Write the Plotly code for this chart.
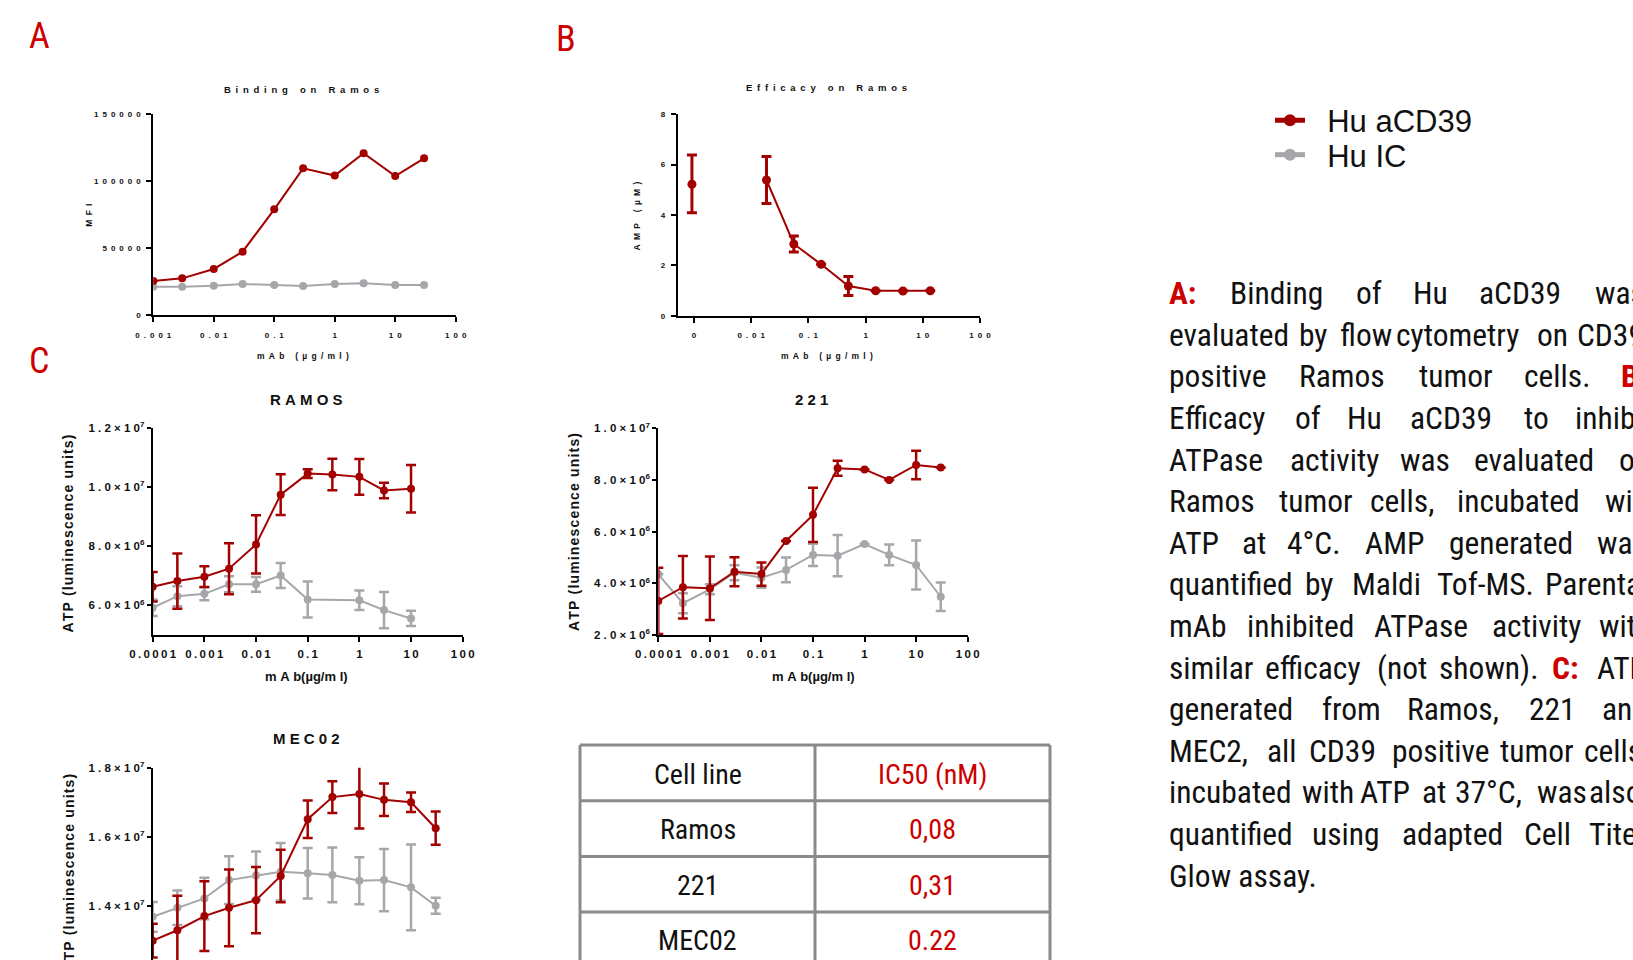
import plotly.graph_objects as go

W, H = 1633, 960
RED = "#a30000"
GRAY = "#a7a7ab"
LABEL_RED = "#cc0000"
INK = "#111111"
FONT = "Liberation Sans, Arial, sans-serif"
NARROW = "Roboto Condensed, DejaVu Sans Condensed, Liberation Sans Narrow, Arial Narrow, Liberation Sans, sans-serif"


def fx(p):
    return p / W


def fy(p):
    return 1 - p / H


def spaced(s, sep):
    return sep.join(ch if ch != " " else "\u00a0" for ch in s)


# ---------------- data ----------------
# A: Binding on Ramos (MFI)
bind_conc = [0.001, 0.003, 0.01, 0.03, 0.1, 0.3, 1, 3, 10, 30]
bind_acd39 = [25400, 27400, 34400, 47300, 79000, 109600, 104200, 120900, 103900, 117100]
bind_ic = [21200, 21200, 21900, 23200, 22400, 21700, 23200, 23700, 22400, 22400]

# B: Efficacy on Ramos (AMP, uM)
eff_ctrl_conc = [0.00092]
eff_ctrl_amp = [5.22]
eff_ctrl_err_plus = [1.16]
eff_ctrl_err_minus = [1.13]
eff_conc = [0.0185, 0.0556, 0.167, 0.5, 1.5, 4.5, 13.5]
eff_amp = [5.39, 2.85, 2.04, 1.18, 0.99, 0.98, 0.99]
eff_err = [0.93, 0.32, 0.0, 0.38, 0.0, 0.0, 0.0]

# C: ATP (luminescence units)
ramos_conc = [1e-4, 3e-4, 1e-3, 3e-3, 1e-2, 3e-2, 0.1, 0.3, 1, 3, 10]
ramos_acd39 = [6.63e6, 6.82e6, 6.97e6, 7.24e6, 8.06e6, 9.74e6, 10.45e6, 10.42e6, 10.34e6, 9.88e6, 9.94e6]
ramos_acd39_err = [0.50e6, 0.93e6, 0.35e6, 0.86e6, 0.98e6, 0.69e6, 0.15e6, 0.53e6, 0.60e6, 0.26e6, 0.80e6]
ramos_ic_conc = [1e-4, 3e-4, 1e-3, 3e-3, 1e-2, 3e-2, 0.1, 1, 3, 10]
ramos_ic = [5.92e6, 6.31e6, 6.39e6, 6.71e6, 6.71e6, 7.01e6, 6.20e6, 6.17e6, 5.84e6, 5.56e6]
ramos_ic_err = [0.28e6, 0.34e6, 0.22e6, 0.27e6, 0.25e6, 0.42e6, 0.61e6, 0.33e6, 0.61e6, 0.26e6]

c221_conc = [1e-4, 3e-4, 1e-3, 3e-3, 1e-2, 3e-2, 0.1, 0.3, 1, 3, 10, 30]
c221_acd39 = [3.32e6, 3.85e6, 3.81e6, 4.45e6, 4.36e6, 5.64e6, 6.65e6, 8.45e6, 8.41e6, 8.00e6, 8.58e6, 8.48e6]
c221_acd39_err = [1.28e6, 1.21e6, 1.23e6, 0.56e6, 0.45e6, 0.0, 1.05e6, 0.29e6, 0.0, 0.0, 0.55e6, 0.0]
c221_ic = [4.35e6, 3.23e6, 3.77e6, 4.41e6, 4.22e6, 4.52e6, 5.10e6, 5.07e6, 5.52e6, 5.10e6, 4.71e6, 3.48e6]
c221_ic_err = [0.0, 0.39e6, 0.19e6, 0.29e6, 0.39e6, 0.48e6, 0.43e6, 0.80e6, 0.0, 0.40e6, 0.95e6, 0.55e6]

mec_conc = [1e-4, 3e-4, 1e-3, 3e-3, 1e-2, 3e-2, 0.1, 0.3, 1, 3, 10, 30]
mec_acd39 = [13.00e6, 13.30e6, 13.71e6, 13.95e6, 14.17e6, 14.87e6, 16.51e6, 17.15e6, 17.24e6, 17.07e6, 17.00e6, 16.25e6]
mec_acd39_err = [0.49e6, 1.00e6, 1.01e6, 1.11e6, 0.96e6, 0.76e6, 0.54e6, 0.46e6, 1.00e6, 0.47e6, 0.28e6, 0.48e6]
mec_ic = [13.69e6, 13.95e6, 14.22e6, 14.75e6, 14.88e6, 14.99e6, 14.95e6, 14.90e6, 14.73e6, 14.75e6, 14.54e6, 14.01e6]
mec_ic_err = [0.43e6, 0.50e6, 0.60e6, 0.69e6, 0.70e6, 0.83e6, 0.73e6, 0.79e6, 0.68e6, 0.90e6, 1.24e6, 0.23e6]

# tick labels
a_xticks = [0.001, 0.01, 0.1, 1, 10, 100]
a_xtext = ["0.001", "0.01", "0.1", "1", "10", "100"]
a_yticks = [0, 50000, 100000, 150000]
a_ytext = ["0", "50000", "100000", "150000"]
b_xticks = [0.001, 0.01, 0.1, 1, 10, 100]
b_xtext = ["0", "0.01", "0.1", "1", "10", "100"]
b_yticks = [0, 2, 4, 6, 8]
b_ytext = ["0", "2", "4", "6", "8"]
c_xticks = [1e-4, 1e-3, 1e-2, 0.1, 1, 10, 100]
c_xtext = ["0.0001", "0.001", "0.01", "0.1", "1", "10", "100"]
ramos_yticks = [6e6, 8e6, 1e7, 1.2e7]
ramos_ytext = [("6.0", "6"), ("8.0", "6"), ("1.0", "7"), ("1.2", "7")]
c221_yticks = [2e6, 4e6, 6e6, 8e6, 1e7]
c221_ytext = [("2.0", "6"), ("4.0", "6"), ("6.0", "6"), ("8.0", "6"), ("1.0", "7")]
mec_yticks = [1.4e7, 1.6e7, 1.8e7]
mec_ytext = [("1.4", "7"), ("1.6", "7"), ("1.8", "7")]

legend_names = ["Hu aCD39", "Hu IC"]

table_header = ["Cell line", "IC50 (nM)"]
table_cells = ["Ramos", "221", "MEC02"]
table_ic50 = ["0,08", "0,31", "0.22"]

caption_lines = [
    [("A:", 1166.7, True), ("Binding", 1228.3), ("of", 1354), ("Hu", 1410.7), ("aCD39", 1476.7), ("was", 1593.3)],
    [("evaluated", 1166.7), ("by", 1296.7), ("flow", 1338), ("cytometry", 1394), ("on", 1535), ("CD39", 1575)],
    [("positive", 1166.7), ("Ramos", 1296.7), ("tumor", 1416.7), ("cells.", 1521.7), ("B:", 1619.3, True)],
    [("Efficacy", 1166.7), ("of", 1293.3), ("Hu", 1345), ("aCD39", 1408.3), ("to", 1521.7), ("inhibit", 1572.7)],
    [("ATPase", 1166.7), ("activity", 1288.3), ("was", 1398.3), ("evaluated", 1471.7), ("on", 1616.7)],
    [("Ramos", 1166.7), ("tumor", 1276.7), ("cells,", 1368.3), ("incubated", 1455), ("with", 1603.3)],
    [("ATP", 1166.7), ("at", 1240), ("4°C.", 1285), ("AMP", 1363.3), ("generated", 1446.7), ("was", 1595)],
    [("quantified", 1166.7), ("by", 1303.3), ("Maldi", 1350), ("Tof-MS.", 1435), ("Parental", 1543.3)],
    [("mAb", 1166.7), ("inhibited", 1245), ("ATPase", 1371.7), ("activity", 1490), ("with", 1596.7)],
    [("similar", 1166.7), ("efficacy", 1263.3), ("(not", 1375), ("shown).", 1436.7), ("C:", 1550, True), ("ATP", 1595)],
    [("generated", 1166.7), ("from", 1320), ("Ramos,", 1405), ("221", 1526.7), ("and", 1600)],
    [("MEC2,", 1166.7), ("all", 1265), ("CD39", 1306.7), ("positive", 1390), ("tumor", 1498.3), ("cells,", 1581.7)],
    [("incubated", 1166.7), ("with", 1300), ("ATP", 1358.3), ("at", 1420), ("37°C,", 1453.3), ("was", 1535), ("also", 1586.7)],
    [("quantified", 1166.7), ("using", 1310), ("adapted", 1400), ("Cell", 1521.7), ("Titer", 1586.7)],
    [("Glow assay.", 1166.7)],
]

# ---------------- figure ----------------
fig = go.Figure()


def add_series(x, y, color, xa, ya, err=None, err_minus=None, msize=8, cap=5, ethick=2.5,
               mode="lines+markers", name=None, legend=None):
    kw = dict(x=x, y=y, mode=mode, xaxis=xa, yaxis=ya,
              line=dict(color=color, width=2),
              marker=dict(color=color, size=msize),
              hoverinfo="skip", showlegend=name is not None, name=name)
    if legend is not None:
        kw["legend"] = legend
    if err is not None:
        e = dict(type="data", array=err, color=color, thickness=ethick, width=cap, visible=True)
        if err_minus is not None:
            e["symmetric"] = False
            e["arrayminus"] = err_minus
        kw["error_y"] = e
    fig.add_trace(go.Scatter(**kw))


# A
add_series(bind_conc, bind_ic, GRAY, "x", "y", name="\u00a0\u00a0" + legend_names[1], legend="legend2")
add_series(bind_conc, bind_acd39, RED, "x", "y", name="\u00a0\u00a0" + legend_names[0], legend="legend")
# B
add_series(eff_ctrl_conc, eff_ctrl_amp, RED, "x2", "y2", err=eff_ctrl_err_plus, err_minus=eff_ctrl_err_minus,
           mode="markers", msize=9, cap=5, ethick=3)
add_series(eff_conc, eff_amp, RED, "x2", "y2", err=eff_err, msize=9, cap=5, ethick=3)
# RAMOS
add_series(ramos_ic_conc, ramos_ic, GRAY, "x3", "y3", err=ramos_ic_err)
add_series(ramos_conc, ramos_acd39, RED, "x3", "y3", err=ramos_acd39_err)
# 221
add_series(c221_conc, c221_ic, GRAY, "x4", "y4", err=c221_ic_err)
add_series(c221_conc, c221_acd39, RED, "x4", "y4", err=c221_acd39_err)
# MEC02
add_series(mec_conc, mec_ic, GRAY, "x5", "y5", err=mec_ic_err)
add_series(mec_conc, mec_acd39, RED, "x5", "y5", err=mec_acd39_err)


def ax(**kw):
    d = dict(showline=True, linecolor="black", linewidth=2, ticks="outside", ticklen=5,
             tickwidth=2, tickcolor="black", showgrid=False, zeroline=False, fixedrange=True,
             automargin=False)
    d.update(kw)
    return d


small_font = dict(family=FONT, size=8, color=INK, weight="bold")
mid_font = dict(family=FONT, size=11.5, color=INK, weight="bold")
EN = "\u2002"
NB = "\u00a0"
TH = "\u2009"


def sci(parts):
    return [spaced(m, NB) + NB + "×" + NB + spaced("10", NB) + "<sup>" + e + "</sup>" for m, e in parts]


fig.update_layout(
    xaxis=ax(domain=[fx(153.3), fx(455.7)], type="log", range=[-3, 2], anchor="y",
             tickvals=a_xticks, ticktext=[spaced(t, EN) for t in a_xtext], tickfont=small_font,
             ticklabelstandoff=6),
    yaxis=ax(domain=[fy(315), fy(114.3)], range=[0, 150000], anchor="x",
             tickvals=a_yticks, ticktext=[spaced(t, EN) for t in a_ytext], tickfont=small_font,
             ticklabelstandoff=4),
    xaxis2=ax(domain=[fx(677.7), fx(980)], type="log", range=[-3.285, 2], anchor="y2",
              tickvals=b_xticks, ticktext=[spaced(t, EN) for t in b_xtext], tickfont=small_font,
              ticklabelstandoff=6),
    yaxis2=ax(domain=[fy(315.7), fy(114.3)], range=[0, 8], anchor="x2",
              tickvals=b_yticks, ticktext=b_ytext, tickfont=small_font, ticklabelstandoff=4),
    xaxis3=ax(domain=[fx(152.7), fx(462.7)], type="log", range=[-4, 2], anchor="y3",
              tickvals=c_xticks, ticktext=[spaced(t, TH) for t in c_xtext], tickfont=mid_font,
              ticklabelstandoff=2),
    yaxis3=ax(domain=[fy(635), fy(427.7)], range=[5.0e6, 1.2e7], anchor="x3",
              tickvals=ramos_yticks, ticktext=sci(ramos_ytext), tickfont=mid_font, ticklen=4),
    xaxis4=ax(domain=[fx(658.3), fx(967.7)], type="log", range=[-4, 2], anchor="y4",
              tickvals=c_xticks, ticktext=[spaced(t, TH) for t in c_xtext], tickfont=mid_font,
              ticklabelstandoff=2),
    yaxis4=ax(domain=[fy(635), fy(428.3)], range=[2.0e6, 1.0e7], anchor="x4",
              tickvals=c221_yticks, ticktext=sci(c221_ytext), tickfont=mid_font, ticklen=4),
    xaxis5=ax(domain=[fx(152.7), fx(462.7)], type="log", range=[-4, 2], anchor="y5", visible=False),
    yaxis5=ax(domain=[0, fy(767.7)], range=[1.244e7, 1.8e7], anchor="x5",
              tickvals=mec_yticks, ticktext=sci(mec_ytext), tickfont=mid_font, ticklen=4),
)

annotations = []


def note(text, x, y, size, color=INK, family=FONT, weight="normal", angle=0, xanchor="center"):
    annotations.append(dict(text=text, x=fx(x), y=fy(y), xref="paper", yref="paper",
                            showarrow=False, xanchor=xanchor, yanchor="middle", textangle=angle,
                            font=dict(family=family, size=size, color=color, weight=weight)))


# panel letters
note("A", 39.6, 36.5, 36, LABEL_RED, NARROW)
note("B", 565.5, 38.5, 36, LABEL_RED, NARROW)
note("C", 38.5, 361.4, 36, LABEL_RED, NARROW)

# A / B titles
note(spaced("Binding on Ramos", EN), 301, 89, 9.5, weight="bold")
note(spaced("Efficacy on Ramos", EN), 826.7, 87.7, 9.5, weight="bold")
note(spaced("mAb (µg/ml)", EN), 303, 355.7, 8.5, weight="bold")
note(spaced("mAb (µg/ml)", EN), 826.7, 356, 8.5, weight="bold")
note(spaced("MFI", EN), 89, 215.7, 8.5, weight="bold", angle=-90)
note(spaced("AMP (µM)", EN), 636.7, 215.7, 8.5, weight="bold", angle=-90)

# C titles
note(spaced("RAMOS", NB), 306.7, 399, 15, weight="bold")
note(spaced("221", NB), 811.7, 399, 15, weight="bold")
note(spaced("MEC02", NB), 306.7, 738, 15, weight="bold")
xt = "m" + NB + "A" + NB + "b(µg/m" + NB + "l)"
note(xt, 306.7, 676, 13, weight="bold")
note(xt, 813.3, 676, 13, weight="bold")
yt = spaced("ATP (luminescence units)", "\u200a")
note(yt, 68.3, 533.3, 14, weight="bold", angle=-90)
note(yt, 573.3, 531.7, 14, weight="bold", angle=-90)
note(yt, 68.3, 872.5, 14, weight="bold", angle=-90)

# table
shapes = []
col_x = [580, 815, 1050]
row_top = 745
row_h = 55.7
n_rows = 1 + len(table_cells)
for cx in col_x:
    shapes.append(dict(type="line", xref="paper", yref="paper", x0=fx(cx), x1=fx(cx),
                       y0=fy(row_top), y1=fy(row_top + row_h * (n_rows + 0.3)),
                       line=dict(color="#8a8a8a", width=3)))
for r in range(n_rows):
    yy = row_top + r * row_h
    shapes.append(dict(type="line", xref="paper", yref="paper", x0=fx(col_x[0]), x1=fx(col_x[-1]),
                       y0=fy(yy), y1=fy(yy), line=dict(color="#8a8a8a", width=3)))
c1 = (col_x[0] + col_x[1]) / 2
c2 = (col_x[1] + col_x[2]) / 2
note(table_header[0], c1, row_top + row_h / 2 + 2, 28, INK, NARROW)
note(table_header[1], c2, row_top + row_h / 2 + 2, 28, LABEL_RED, NARROW)
for i, (cl, v) in enumerate(zip(table_cells, table_ic50)):
    yc = row_top + (i + 1.5) * row_h + 1
    note(cl, c1, yc, 28, INK, NARROW)
    note(v, c2, yc, 28, LABEL_RED, NARROW)

# caption
line_y0 = 293.7
line_gap = 41.6
for li, words in enumerate(caption_lines):
    for w in words:
        red = len(w) > 2 and w[2]
        note(w[0], w[1], line_y0 + li * line_gap, 31.5, LABEL_RED if red else INK, NARROW,
             weight="bold" if red else "normal", xanchor="left")

legend_style = dict(x=fx(1270), xanchor="left", yanchor="middle",
                    font=dict(family=FONT, size=31, color=INK), itemwidth=30,
                    itemsizing="constant", bgcolor="rgba(0,0,0,0)", borderwidth=0)

fig.update_layout(
    width=W, height=H, autosize=False,
    margin=dict(l=0, r=0, t=0, b=0, pad=0),
    paper_bgcolor="white", plot_bgcolor="white",
    annotations=annotations, shapes=shapes,
    legend=dict(y=fy(120.7), **legend_style),
    legend2=dict(y=fy(155), **legend_style),
)

fig.write_html("out.html")
